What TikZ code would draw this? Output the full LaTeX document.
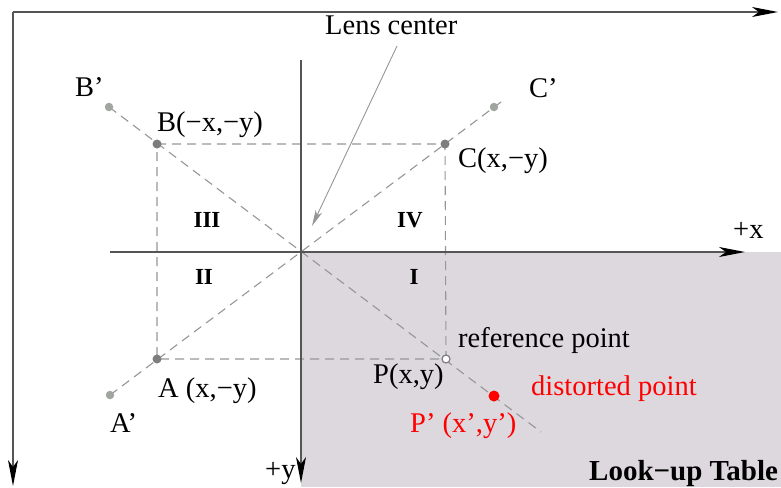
\documentclass[tikz,border=0pt]{standalone}
\usepackage{fontspec}
\setmainfont{Liberation Serif}
\usetikzlibrary{arrows.meta}
\definecolor{axisgray}{RGB}{85,85,85}
\definecolor{dashgray}{RGB}{150,150,150}
\definecolor{lightdot}{RGB}{160,165,160}
\definecolor{darkdot}{RGB}{125,125,125}
\definecolor{tablebg}{RGB}{221,216,222}
\definecolor{redpt}{RGB}{255,0,0}
\begin{document}
\begin{tikzpicture}[x=1pt,y=-1pt,
  axis/.style={draw=axisgray, line width=1.4pt, -{Stealth[length=26pt,width=10pt,inset=7pt,color=black]}},
  dashline/.style={draw=dashgray, line width=1.1pt, dash pattern=on 9pt off 6pt},
  lbl/.style={inner sep=0pt, anchor=base west, font=\fontsize{28.5}{32}\selectfont},
  roman/.style={inner sep=0pt, font=\fontsize{23}{26}\selectfont\bfseries},
  lightpt/.style={circle, fill=lightdot, inner sep=0pt, minimum size=8.5pt},
  darkpt/.style={circle, fill=darkdot, inner sep=0pt, minimum size=9pt},
  openpt/.style={circle, draw=darkdot, fill=white, line width=1.2pt, inner sep=0pt, minimum size=8pt},
  redptst/.style={circle, fill=redpt, inner sep=0pt, minimum size=11pt},
  pointer/.style={draw=dashgray, line width=0.9pt, -{Stealth[length=16pt,width=7pt,inset=4pt]}}
]
\useasboundingbox (0,0) rectangle (781,487);
% look-up table region
\fill[tablebg] (301,252) rectangle (781,487);

% coordinates
\coordinate (F) at (13,12);
\coordinate (Fx) at (778,12);
\coordinate (Fy) at (13,486);
\coordinate (O) at (301,252);
\coordinate (Xs) at (110,252);
\coordinate (Xe) at (745,252);
\coordinate (Ys) at (301,60);
\coordinate (Ye) at (301,483);
\coordinate (B) at (157,144);
\coordinate (C) at (445,144);
\coordinate (A) at (157,359);
\coordinate (P) at (446,359);
\coordinate (Bp) at (109,107);
\coordinate (Cp) at (494,107);
\coordinate (Ap) at (110,395);
\coordinate (Pp) at (494,396);
\coordinate (E1) at (541,432);
\coordinate (E2) at (501,102);
\coordinate (Ls) at (397,46);
\coordinate (Le) at (312,226);

% frame axes
\draw[axis] (F) -- (Fx);
\draw[axis] (F) -- (Fy);

% dashed construction
\draw[dashline] (B) -- (C) -- (P) -- (A) -- cycle;
\draw[dashline] (Bp) -- (E1);
\draw[dashline] (Ap) -- (E2);

% main axes
\draw[axis] (Xs) -- (Xe);
\draw[axis] (Ys) -- (Ye);

% pointer to lens center
\draw[pointer] (Ls) -- (Le);

% points
\node[lightpt] (nBp) at (Bp) {};
\node[lightpt] (nCp) at (Cp) {};
\node[lightpt] (nAp) at (Ap) {};
\node[darkpt] (nB) at (B) {};
\node[darkpt] (nC) at (C) {};
\node[darkpt] (nA) at (A) {};
\node[openpt] (nP) at (P) {};
\node[redptst] (nPp) at (Pp) {};

% labels
\node[lbl] (tLens) at (325,35) {Lens center};
\node[lbl] (tBp) at (75,96) {B’};
\node[lbl] (tCp) at (529,97) {C’};
\node[lbl] (tAp) at (110,432) {A’};
\node[lbl] (tB) at (157,131) {B(−x,−y)};
\node[lbl] (tC) at (458,167) {C(x,−y)};
\node[lbl] (tA) at (158,397) {A (x,−y)};
\node[lbl] (tP) at (373,383) {P(x,y)};
\node[lbl] (tRef) at (458,347) {reference point};
\node[lbl, text=redpt] (tDist) at (531,395) {distorted point};
\node[lbl, text=redpt] (tPp) at (410,432) {P’ (x’,y’)};
\node[lbl, font=\fontsize{29}{32}\selectfont\bfseries] (tLUT) at (589,480) {Look−up Table};
\node[lbl] (tX) at (733,238) {+x};
\node[lbl] (tY) at (265,478) {+y};

\node[roman] (r3) at (207,220) {III};
\node[roman] (r4) at (410,220) {IV};
\node[roman] (r2) at (204,277) {II};
\node[roman] (r1) at (414,277) {I};
\end{tikzpicture}
\end{document}
